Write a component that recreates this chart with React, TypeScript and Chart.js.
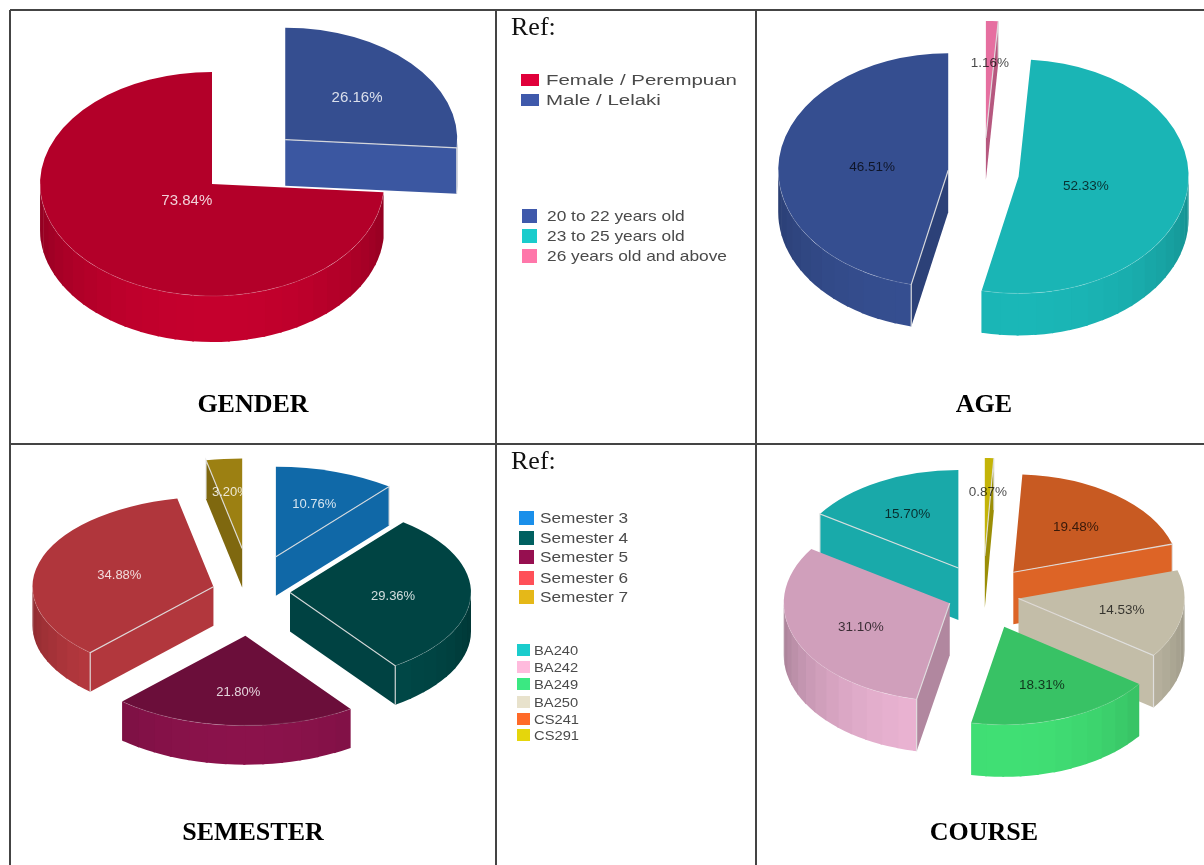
import React, { useEffect, useRef } from "react";
import { Chart, registerables } from "chart.js";

Chart.register(...registerables);

// ---------- data ----------
const genderLabels = ["Male / Lelaki", "Female / Perempuan"];
const genderValues = [26.16, 73.84];
const genderColors = ["#354E90", "#B30029"];

const ageLabels = ["26 years old and above", "23 to 25 years old", "20 to 22 years old"];
const ageValues = [1.16, 52.33, 46.51];
const ageColors = ["#E66FA0", "#1AB5B5", "#354E90"];

const semesterLabels = ["Semester 3", "Semester 4", "Semester 5", "Semester 6", "Semester 7"];
const semesterValues = [10.76, 29.36, 21.8, 34.88, 3.2];
const semesterColors = ["#1069A8", "#004443", "#6B0E3A", "#B0363C", "#9C8012"];

const courseLabels = ["CS291", "CS241", "BA250", "BA249", "BA242", "BA240"];
const courseValues = [0.87, 19.48, 14.53, 18.31, 31.1, 15.7];
const courseColors = ["#C4B408", "#C85A22", "#C3BDA8", "#38C265", "#D09FBB", "#19A9A9"];

const legendGenderLabels = ["Female / Perempuan", "Male / Lelaki"];
const legendGenderColors = ["#E0003A", "#3F59AB"];
const legendAgeLabels = ["20 to 22 years old", "23 to 25 years old", "26 years old and above"];
const legendAgeColors = ["#3F59AB", "#1ACCCC", "#FF77AA"];
const legendSemesterLabels = ["Semester 3", "Semester 4", "Semester 5", "Semester 6", "Semester 7"];
const legendSemesterColors = ["#1A8FEA", "#006060", "#960F50", "#FF5058", "#E5B818"];
const legendCourseLabels = ["BA240", "BA242", "BA249", "BA250", "CS241", "CS291"];
const legendCourseColors = ["#1ACCCC", "#FFBBDD", "#3BE882", "#E8E2CC", "#FF6A28", "#E5D60C"];

// ---------- layout / style ----------
const CANVAS = 640;
const SANS = '"Liberation Sans", Arial, sans-serif';
const SERIF = '"Liberation Serif", "Times New Roman", serif';

const pies = [
  { key: "gender", labels: genderLabels, values: genderValues, colors: genderColors, cx: 212, cy: 184, rx: 172, ry: 112, depth: 46,
    explode: [100, 0], labelT: [0.57, 0.2], labelDy: 1.5, peak: [1.12, 1.1], font: 15, textColor: "rgba(255,255,255,0.82)" },
  { key: "age", labels: ageLabels, values: ageValues, colors: ageColors, cx: 984, cy: 173, rx: 170, ry: 117, depth: 42,
    explode: [51, 35, 36], labelT: [0.66, 0.4, 0.45], labelDy: 3, peak: [0.95, 1.01, 1.01], font: 13.5, textColor: "rgba(0,0,0,0.72)" },
  { key: "semester", labels: semesterLabels, values: semesterValues, colors: semesterColors, cx: 251, cy: 592, rx: 181, ry: 90, depth: 39,
    explode: [75, 39, 88, 39, 88], labelT: [0.64, 0.57, 0.61, 0.54, 0.65], labelDy: 2, peak: [1.12, 1.12, 1.3, 1.12, 0.95], font: 13, textColor: "rgba(255,255,255,0.82)" },
  { key: "course", labels: courseLabels, values: courseValues, colors: courseColors, cx: 982.5, cy: 595, rx: 166, ry: 98, depth: 52,
    explode: [66, 49, 36, 58, 36, 52], labelT: [0.67, 0.61, 0.63, 0.62, 0.58, 0.65], labelDy: 2, peak: [0.95, 1.12, 1.05, 1.15, 1.13, 1.05], font: 13.5, textColor: "rgba(0,0,0,0.72)" },
];

const legends = [
  { labels: legendGenderLabels, colors: legendGenderColors, swatchX: 521, swatchW: 18, swatchH: 12, textX: 546, ys: [80, 100], fontSize: 15.5, targetWidth: 191 },
  { labels: legendAgeLabels, colors: legendAgeColors, swatchX: 522, swatchW: 15, swatchH: 14, textX: 547, ys: [216, 236, 256], fontSize: 14.5, targetWidth: 180 },
  { labels: legendSemesterLabels, colors: legendSemesterColors, swatchX: 519, swatchW: 15, swatchH: 14, textX: 540, ys: [518, 538, 557, 578, 597], fontSize: 14.5, targetWidth: 88 },
  { labels: legendCourseLabels, colors: legendCourseColors, swatchX: 517, swatchW: 13, swatchH: 12, textX: 534, ys: [650, 667, 684, 702, 719, 735], fontSize: 13, targetWidth: 45 },
];

const titles = [
  { text: "GENDER", x: 253, baseline: 412 },
  { text: "AGE", x: 984, baseline: 412 },
  { text: "SEMESTER", x: 253, baseline: 840 },
  { text: "COURSE", x: 984, baseline: 840 },
];

const refNotes = [{ x: 511, baseline: 35 }, { x: 511, baseline: 469 }];

const vLines = [10, 496, 756];
const hLines = [10, 444];

function shade(hex: string, f: number) {
  const n = parseInt(hex.slice(1), 16);
  const c = [(n >> 16) & 255, (n >> 8) & 255, n & 255].map((v) => Math.max(0, Math.min(255, Math.round(v * f))));
  return `rgb(${c[0]},${c[1]},${c[2]})`;
}
const wallShade = (ny: number, peak: number) => 0.78 + (peak - 0.78) * ny;

const pie3d = {
  id: "pie3d",
  beforeDatasetDraw(chart: any, _args: any, o: any) {
    const ctx = chart.ctx as CanvasRenderingContext2D;
    const meta = chart.getDatasetMeta(0);
    const colors: string[] = chart.data.datasets[0].backgroundColor;
    const k = o.ry / o.rx;
    const slices = meta.data.map((el: any, i: number) => {
      const mid = (el.startAngle + el.endAngle) / 2;
      return { el, i, mid, ox: Math.cos(mid) * o.explode[i], oy: Math.sin(mid) * o.explode[i] * k };
    });
    slices.sort((a: any, b: any) => a.oy - b.oy);
    for (const s of slices) {
      const { el, ox, oy } = s;
      const base = colors[s.i];
      const peak = o.peak[s.i];
      const ax = el.x + ox;
      const ay = el.y + oy;
      const rx = el.outerRadius;
      const ry = el.outerRadius * k;
      const d = o.depth;
      const pt = (t: number) => [ax + rx * Math.cos(t), ay + ry * Math.sin(t)];
      // curved outer wall, drawn as narrow vertical bands
      const from = Math.max(el.startAngle, 0);
      const to = Math.min(el.endAngle, Math.PI);
      const step = Math.PI / 30;
      if (to > from) {
        let a = from;
        while (a < to - 1e-6) {
          const b = Math.min(to, (Math.floor(a / step + 1e-6) + 1) * step);
          const e = Math.min(to, b + 0.012);
          ctx.beginPath();
          ctx.ellipse(ax, ay, rx, ry, 0, a, e);
          ctx.ellipse(ax, ay + d, rx, ry, 0, e, a, true);
          ctx.closePath();
          ctx.fillStyle = shade(base, wallShade(Math.sin((a + b) / 2), peak));
          ctx.fill();
          a = b;
        }
      }
      // flat radial walls
      const radial = [
        { t: el.startAngle, ny: -Math.cos(el.startAngle) },
        { t: el.endAngle, ny: Math.cos(el.endAngle) },
      ].filter((w) => w.ny > 0.01);
      for (const w of radial) {
        const [px, py] = pt(w.t);
        ctx.beginPath();
        ctx.moveTo(ax, ay);
        ctx.lineTo(px, py);
        ctx.lineTo(px, py + d);
        ctx.lineTo(ax, ay + d);
        ctx.closePath();
        ctx.fillStyle = shade(base, wallShade(w.ny, peak));
        ctx.fill();
      }
      // top face: the library's own arc, squashed and moved out
      ctx.save();
      ctx.translate(el.x + ox, el.y + oy);
      ctx.scale(1, k);
      ctx.translate(-el.x, -el.y);
      el.draw(ctx);
      ctx.restore();
      // faint seam between top and curved wall
      if (to > from) {
        ctx.beginPath();
        ctx.ellipse(ax, ay, rx, ry, 0, from, to);
        ctx.strokeStyle = "rgba(255,255,255,0.14)";
        ctx.lineWidth = 1;
        ctx.stroke();
      }
      // light edges of the radial walls
      ctx.strokeStyle = "rgba(225,225,225,0.9)";
      ctx.lineWidth = 1.2;
      for (const w of radial) {
        const [px, py] = pt(w.t);
        ctx.beginPath();
        ctx.moveTo(ax, ay);
        ctx.lineTo(px, py);
        ctx.lineTo(px, py + d);
        ctx.stroke();
      }
    }
    return false;
  },
  afterDatasetsDraw(chart: any, _args: any, o: any) {
    const ctx = chart.ctx as CanvasRenderingContext2D;
    const meta = chart.getDatasetMeta(0);
    const k = o.ry / o.rx;
    ctx.save();
    ctx.textAlign = "center";
    ctx.textBaseline = "middle";
    ctx.font = `${o.font}px ${SANS}`;
    ctx.fillStyle = o.textColor;
    meta.data.forEach((el: any, i: number) => {
      const mid = (el.startAngle + el.endAngle) / 2;
      const d = o.explode[i];
      const t = o.labelT[i];
      const x = el.x + Math.cos(mid) * (d + el.outerRadius * t);
      const y = el.y + Math.sin(mid) * (d + el.outerRadius * t) * k + o.labelDy;
      ctx.fillText(chart.data.datasets[0].data[i].toFixed(2) + "%", x, y);
    });
    ctx.restore();
  },
};

function Pie3D({ p }: { p: (typeof pies)[number] }) {
  const ref = useRef<HTMLCanvasElement>(null);
  useEffect(() => {
    const chart = new Chart(ref.current as HTMLCanvasElement, {
      type: "pie",
      data: {
        labels: p.labels,
        datasets: [{ data: p.values, backgroundColor: p.colors, borderWidth: 0 }],
      },
      options: {
        responsive: false,
        animation: false,
        radius: p.rx,
        layout: { padding: 0 },
        events: [],
        plugins: {
          legend: { display: false },
          tooltip: { enabled: false },
          pie3d: { rx: p.rx, ry: p.ry, depth: p.depth, explode: p.explode, labelT: p.labelT, labelDy: p.labelDy, peak: p.peak, font: p.font, textColor: p.textColor },
        },
      } as any,
      plugins: [pie3d as any],
    });
    return () => chart.destroy();
  }, [p]);
  return (
    <canvas
      ref={ref}
      width={CANVAS}
      height={CANVAS}
      style={{ position: "absolute", left: p.cx - CANVAS / 2, top: p.cy - CANVAS / 2, width: CANVAS, height: CANVAS }}
    />
  );
}

function measure(text: string, font: string) {
  const c = document.createElement("canvas").getContext("2d") as CanvasRenderingContext2D;
  c.font = font;
  return c.measureText(text).width;
}

function Legend({ l }: { l: (typeof legends)[number] }) {
  const font = `${l.fontSize}px ${SANS}`;
  const longest = Math.max(...l.labels.map((t) => measure(t, font)));
  const sx = l.targetWidth / longest;
  return (
    <>
      {l.labels.map((t, i) => (
        <React.Fragment key={t}>
          <div style={{ position: "absolute", left: l.swatchX, top: l.ys[i] - l.swatchH / 2, width: l.swatchW, height: l.swatchH, background: l.colors[i] }} />
          <div
            style={{
              position: "absolute",
              left: l.textX,
              top: l.ys[i],
              font,
              lineHeight: 1,
              color: "#4a4a4a",
              whiteSpace: "nowrap",
              transformOrigin: "left center",
              transform: `translateY(-50%) scaleX(${sx})`,
            }}
          >
            {t}
          </div>
        </React.Fragment>
      ))}
    </>
  );
}

export default function App() {
  return (
    <div
      style={{
        position: "fixed",
        left: 0,
        top: 0,
        width: 1204,
        height: 865,
        overflow: "hidden",
        background: "#fff",
        filter: "blur(0.7px)",
      }}
    >
      {vLines.map((x) => (
        <div key={x} style={{ position: "absolute", left: x - 1, top: 10, width: 2, height: 855, background: "#444" }} />
      ))}
      {hLines.map((y) => (
        <div key={y} style={{ position: "absolute", left: 10, top: y - 1, width: 1194, height: 2, background: "#444" }} />
      ))}
      {pies.map((p) => (
        <Pie3D key={p.key} p={p} />
      ))}
      {legends.map((l, i) => (
        <Legend key={i} l={l} />
      ))}
      {refNotes.map((r, i) => (
        <div key={i} style={{ position: "absolute", left: r.x, top: r.baseline - 23, font: `26px ${SERIF}`, lineHeight: "29px", color: "#111" }}>
          Ref:
        </div>
      ))}
      {titles.map((t) => (
        <div
          key={t.text}
          style={{
            position: "absolute",
            left: t.x - 150,
            width: 300,
            top: t.baseline - 23,
            textAlign: "center",
            font: `bold 26px ${SERIF}`,
            lineHeight: "29px",
            color: "#000",
          }}
        >
          {t.text}
        </div>
      ))}
    </div>
  );
}
